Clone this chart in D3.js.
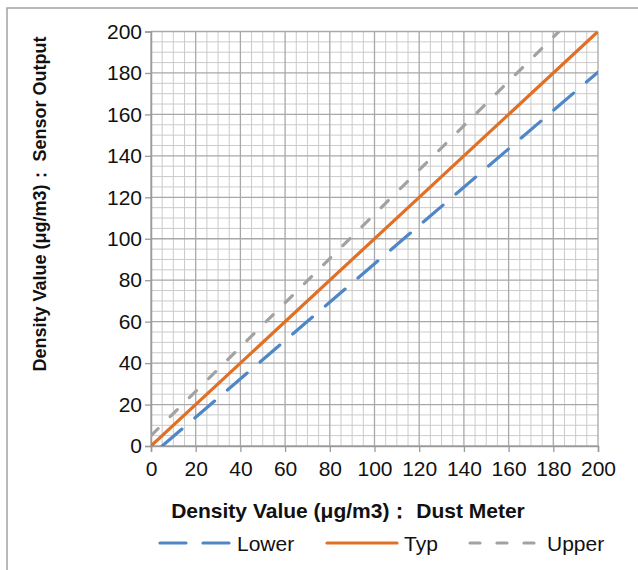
<!DOCTYPE html>
<html>
<head>
<meta charset="utf-8">
<script src="https://cdn.jsdelivr.net/npm/d3@7"></script>
<style>
  body { margin: 0; background: #fff; }
  svg { display: block; }
</style>
</head>
<body>
<div id="chart"></div>
<script>
// series (x = dust meter, y = sensor output)
const lowerPts = [[5, 0], [200, 180.4]];
const typPts   = [[0, 0], [200, 200]];
const upperPts = [[0, 5], [182.5, 200]];

const xTicks = [0, 20, 40, 60, 80, 100, 120, 140, 160, 180, 200];
const yTicks = [0, 20, 40, 60, 80, 100, 120, 140, 160, 180, 200];
const minorStep = 5;

const seriesNames = ["Lower", "Typ", "Upper"];

const totalW = 638, totalH = 570;
const margin = { top: 31.5, right: 40, bottom: 124, left: 151 };
const W = totalW - margin.left - margin.right;
const H = totalH - margin.top - margin.bottom;

const FONT = "'Liberation Sans', Arial, sans-serif";

const svg = d3.select("#chart").append("svg")
  .attr("width", totalW).attr("height", totalH);

// outer chart frame (runs off the right/bottom of the picture)
svg.append("rect").attr("x", 7).attr("y", 8).attr("width", 700).attr("height", 700)
  .attr("fill", "none").attr("stroke", "#a3a3a3").attr("stroke-width", 1.5);

const g = svg.append("g").attr("transform", `translate(${margin.left},${margin.top})`);

const x = d3.scaleLinear().domain([0, 200]).range([0, W]);
const y = d3.scaleLinear().domain([0, 200]).range([H, 0]);

// minor grid
const minor = d3.range(0, 201, minorStep).filter(v => v % 20 !== 0);
g.append("g").selectAll("line").data(minor).join("line")
  .attr("x1", d => x(d)).attr("x2", d => x(d)).attr("y1", 0).attr("y2", H)
  .attr("stroke", "#cbcbcb").attr("stroke-width", 1);
g.append("g").selectAll("line").data(minor).join("line")
  .attr("x1", 0).attr("x2", W).attr("y1", d => y(d)).attr("y2", d => y(d))
  .attr("stroke", "#cbcbcb").attr("stroke-width", 1);

// major grid
g.append("g").selectAll("line").data(xTicks).join("line")
  .attr("x1", d => x(d)).attr("x2", d => x(d)).attr("y1", 0).attr("y2", H)
  .attr("stroke", "#a8a8a8").attr("stroke-width", 1.3);
g.append("g").selectAll("line").data(yTicks).join("line")
  .attr("x1", 0).attr("x2", W).attr("y1", d => y(d)).attr("y2", d => y(d))
  .attr("stroke", "#a8a8a8").attr("stroke-width", 1.3);

const AX = sel => sel
  .call(a => a.select(".domain").attr("stroke", "#9a9a9a").attr("stroke-width", 1.5))
  .call(a => a.selectAll(".tick line").attr("stroke", "#9a9a9a").attr("stroke-width", 1.3))
  .call(a => a.selectAll("text").attr("fill", "#111")
    .style("font-family", FONT).style("font-size", "21px"));

g.append("g").attr("transform", `translate(0,${H})`)
  .call(d3.axisBottom(x).tickValues(xTicks).tickSizeOuter(0).tickSize(6).tickPadding(9))
  .call(AX);
g.append("g")
  .call(d3.axisLeft(y).tickValues(yTicks).tickSizeOuter(0).tickSize(6).tickPadding(3))
  .call(AX);

// lines, clipped to the plot area
svg.append("defs").append("clipPath").attr("id", "plot-clip")
  .append("rect").attr("x", 0).attr("y", 0).attr("width", W).attr("height", H);

const line = d3.line().x(d => x(d[0])).y(d => y(d[1]));
const styles = {
  Lower: { color: "#4f87c6", dash: "26,17" },
  Typ:   { color: "#e07026", dash: null },
  Upper: { color: "#a2a2a2", dash: "10,17" }
};
const seriesData = { Lower: lowerPts, Typ: typPts, Upper: upperPts };

const lines = g.append("g").attr("clip-path", "url(#plot-clip)");
seriesNames.forEach(name => {
  const s = styles[name];
  lines.append("path").datum(seriesData[name])
    .attr("d", line).attr("fill", "none")
    .attr("stroke", s.color).attr("stroke-width", 3.2)
    .attr("stroke-linecap", "round")
    .attr("stroke-dasharray", s.dash);
});

// axis titles
svg.append("text").attr("x", 348).attr("y", 518)
  .attr("text-anchor", "middle").attr("fill", "#111")
  .style("font-family", FONT).style("font-size", "21px").style("font-weight", "bold")
  .text("Density Value (μg/m3)：  Dust Meter");
svg.append("text").attr("transform", "translate(46,204) rotate(-90)")
  .attr("text-anchor", "middle").attr("fill", "#111")
  .style("font-family", FONT).style("font-size", "18px").style("font-weight", "bold")
  .text("Density Value (μg/m3)：  Sensor Output");

// legend
const legX = [160, 327, 470];
const legY = 543;
seriesNames.forEach((name, i) => {
  const s = styles[name];
  svg.append("line").attr("x1", legX[i]).attr("x2", legX[i] + 70)
    .attr("y1", legY).attr("y2", legY)
    .attr("stroke", s.color).attr("stroke-width", 3.2).attr("stroke-linecap", "round")
    .attr("stroke-dasharray", s.dash);
  svg.append("text").attr("x", legX[i] + 77).attr("y", legY + 8)
    .attr("fill", "#111").style("font-family", FONT).style("font-size", "21px")
    .text(name);
});
</script>
</body>
</html>
